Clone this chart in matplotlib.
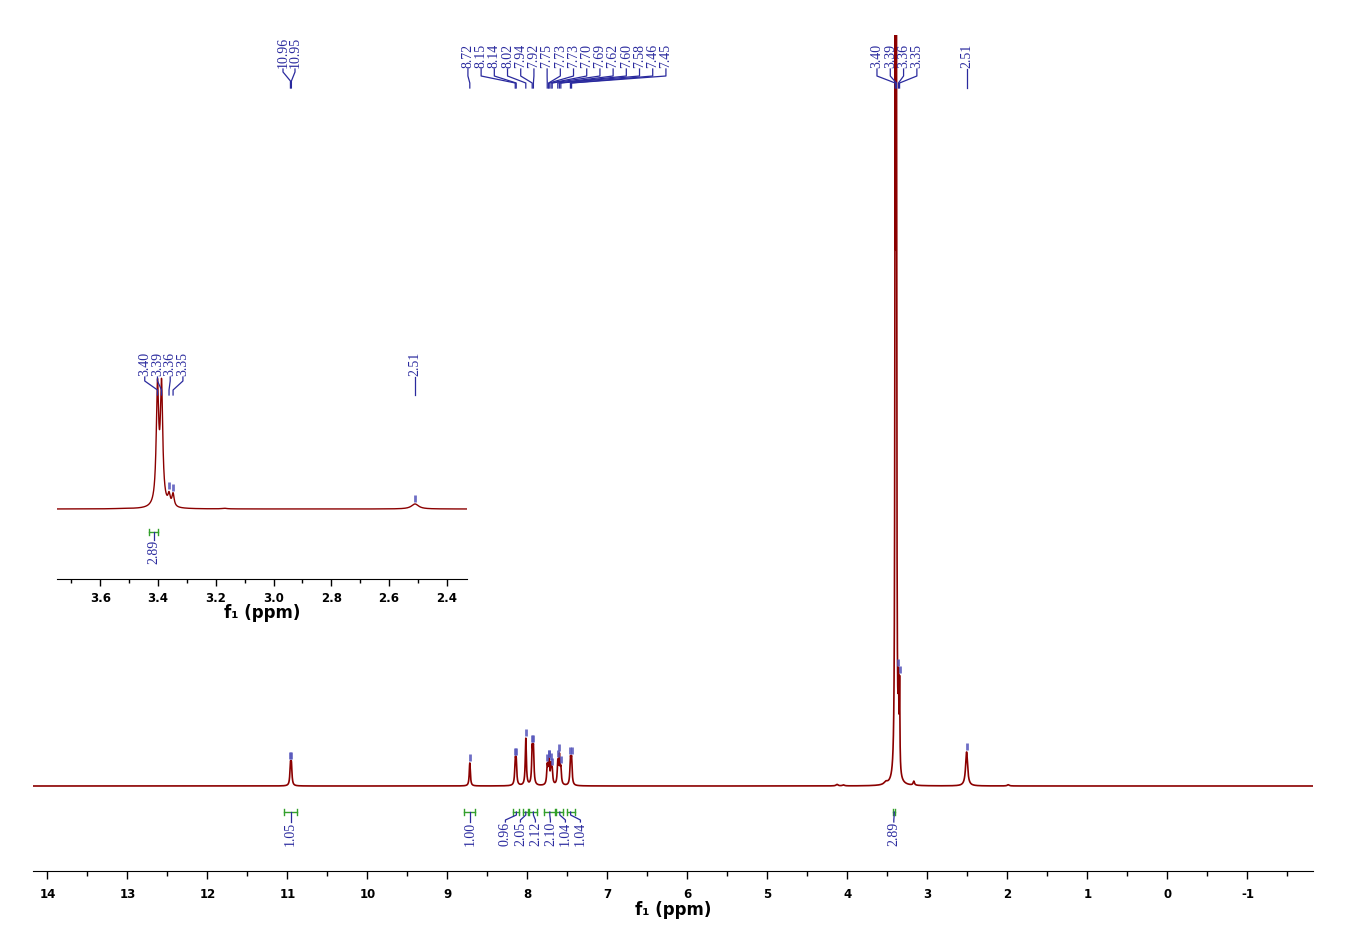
import matplotlib.pyplot as plt
import numpy as np
from matplotlib.ticker import MultipleLocator, FormatStrFormatter

plt.rcParams["axes.unicode_minus"] = False

# peak list (ppm, apparent height in main-plot pixels, FWHM in ppm)
line_ppm = [10.962, 10.950, 8.720, 8.152, 8.140, 8.020, 7.940, 7.925,
            7.752, 7.735, 7.728, 7.705, 7.690, 7.620, 7.600, 7.582,
            7.462, 7.448, 4.130, 4.050, 3.520, 3.402, 3.388, 3.362, 3.348,
            3.170, 2.510, 1.990]
line_height = [19, 19, 23, 22, 22, 47, 34, 34,
               18, 14, 14, 18, 13, 22, 27, 15,
               24, 24, 1.5, 1.0, 2.5, 790, 790, 70, 85,
               4, 34, 1.2]
line_width = [0.016, 0.016, 0.016, 0.016, 0.016, 0.016, 0.016, 0.016,
              0.016, 0.016, 0.016, 0.016, 0.016, 0.016, 0.016, 0.016,
              0.016, 0.016, 0.03, 0.03, 0.05, 0.010, 0.010, 0.009, 0.009,
              0.02, 0.03, 0.03]

# peak label groups
main_groups = [
    ["10.96", "10.95"],
    ["8.72", "8.15", "8.14", "8.02", "7.94", "7.92", "7.75", "7.73", "7.73",
     "7.70", "7.69", "7.62", "7.60", "7.58", "7.46", "7.45"],
    ["3.40", "3.39", "3.36", "3.35"],
    ["2.51"],
]
main_group_peaks = [
    [10.962, 10.950],
    [8.720, 8.152, 8.140, 8.020, 7.940, 7.925, 7.752, 7.735, 7.728,
     7.705, 7.690, 7.620, 7.600, 7.582, 7.462, 7.448],
    [3.402, 3.388, 3.362, 3.348],
    [2.510],
]
inset_groups = [["3.40", "3.39", "3.36", "3.35"], ["2.51"]]
inset_group_peaks = [[3.402, 3.388, 3.362, 3.348], [2.510]]

# integrals: (from, to) ppm and value
integ_ranges = [(11.04, 10.88), (8.79, 8.65), (8.175, 8.10), (8.05, 7.99),
                (7.975, 7.875), (7.79, 7.65), (7.64, 7.55), (7.51, 7.41),
                (3.43, 3.40)]
integ_values = ["1.05", "1.00", "0.96", "2.05", "2.12", "2.10", "1.04", "1.04", "2.89"]
integ_groups = [[0], [1], [2, 3, 4, 5, 6, 7], [8]]

INSET_SCALE = 0.148
RED = "#8b0000"
BLUE = "#2a2a9e"
GREEN = "#33a02c"
LABEL_FONT = dict(family="Liberation Serif", size=10, color=BLUE)


def spectrum(x):
    y = np.zeros_like(x)
    for p, h, w in zip(line_ppm, line_height, line_width):
        y += h / (1 + ((x - p) / (w / 2)) ** 2)
    return y


def peak_labels(ax, texts, peaks, center, step, ys, scale):
    n = len(texts)
    xs = center + ((n - 1) / 2 - np.arange(n)) * step
    for lx, px, t in zip(xs, peaks, texts):
        ax.plot([lx, lx, px, px], ys, color=BLUE, lw=0.9)
        ax.text(lx, ys[0] + 1, t, rotation=90, ha="center", va="bottom",
                **LABEL_FONT)
    # pick markers above the peaks
    for px in peaks:
        top = spectrum(np.array([px]))[0] * scale
        if top < ys[-1] - 20:
            ax.plot([px, px], [top + 2, top + 9], color="#5555bb", lw=2.0,
                    alpha=0.85, solid_capstyle="butt")


def integral_mark(ax, i, lx, y, drop):
    a, b = integ_ranges[i]
    ax.plot([a, b], [y, y], color=GREEN, lw=1.0)
    ax.plot([a, a], [y - 3, y + 3], color=GREEN, lw=1.0)
    ax.plot([b, b], [y - 3, y + 3], color=GREEN, lw=1.0)
    mx = (a + b) / 2
    ax.plot([mx, mx, lx, lx], [y, y - 3, y - drop + 2, y - drop], color=BLUE, lw=0.9)
    ax.text(lx, y - drop, integ_values[i], rotation=90, ha="center", va="top",
            **LABEL_FONT)


fig = plt.figure(figsize=(13.48, 9.52), dpi=100)
W, H = 1348, 952

# ---- main spectrum
ax = fig.add_axes([33 / W, (H - 871) / H, (1313 - 33) / W, (871 - 35) / H])
x = np.linspace(14.18, -1.82, 64001)
ax.plot(x, spectrum(x), color=RED, lw=1.2)
ax.set_xlim(14.18, -1.82)
ax.set_ylim(-85, 751)
ppm80 = 1 / 80.0

centers = [10.98, 7.506, 3.381, 2.51]
steps = [12 * ppm80, 13.2 * ppm80, 13.3 * ppm80, 0]
for k, (texts, peaks) in enumerate(zip(main_groups, main_group_peaks)):
    ys = [717, 714, 705, 698] if k == 0 else [717, 710, 703, 698]
    peak_labels(ax, texts, peaks, centers[k], steps[k], ys, 1.0)

icenters = [10.96, 8.72, 7.806, 3.42]
for k, idx in enumerate(integ_groups):
    n = len(idx)
    xs = icenters[k] + ((n - 1) / 2 - np.arange(n)) * 15 * ppm80
    for lx, i in zip(xs, idx):
        integral_mark(ax, i, lx, -26, 10)

for s in ["top", "left", "right"]:
    ax.spines[s].set_visible(False)
ax.set_yticks([])
ax.xaxis.set_major_locator(MultipleLocator(1))
ax.xaxis.set_minor_locator(MultipleLocator(0.5))
ax.xaxis.set_major_formatter(FormatStrFormatter("%d"))
ax.tick_params(axis="x", which="major", length=6, width=1, pad=6)
ax.tick_params(axis="x", which="minor", length=3.5, width=1)
for lab in ax.get_xticklabels():
    lab.set_fontweight("bold")
    lab.set_fontsize(8.5)
ax.set_xlabel("f₁ (ppm)", fontsize=12, fontweight="bold", labelpad=0)
ax.patch.set_alpha(0)

# ---- inset
ax2 = fig.add_axes([57 / W, (H - 579) / H, (467 - 57) / W, (579 - 340) / H])
xi = np.linspace(3.75, 2.33, 8001)
ax2.plot(xi, spectrum(xi) * INSET_SCALE, color=RED, lw=1.0)
ax2.set_xlim(3.75, 2.33)
ax2.set_ylim(-70, 169)
ppm_in = 1 / 288.3
ic = [3.380, 2.51]
for k, (texts, peaks) in enumerate(zip(inset_groups, inset_group_peaks)):
    peak_labels(ax2, texts, peaks, ic[k], 12.7 * ppm_in, [132, 128, 119, 114],
                INSET_SCALE)

integral_mark(ax2, 8, 3.415, -23, 8)

for s in ["top", "left", "right"]:
    ax2.spines[s].set_visible(False)
ax2.set_yticks([])
ax2.xaxis.set_major_locator(MultipleLocator(0.2))
ax2.xaxis.set_minor_locator(MultipleLocator(0.1))
ax2.xaxis.set_major_formatter(FormatStrFormatter("%.1f"))
ax2.tick_params(axis="x", which="major", length=5, width=1, pad=4)
ax2.tick_params(axis="x", which="minor", length=3, width=1)
for lab in ax2.get_xticklabels():
    lab.set_fontweight("bold")
    lab.set_fontsize(8.5)
ax2.set_xlabel("f₁ (ppm)", fontsize=12, fontweight="bold", labelpad=0)
ax2.patch.set_alpha(0)

fig.savefig("out.png", dpi=100)
